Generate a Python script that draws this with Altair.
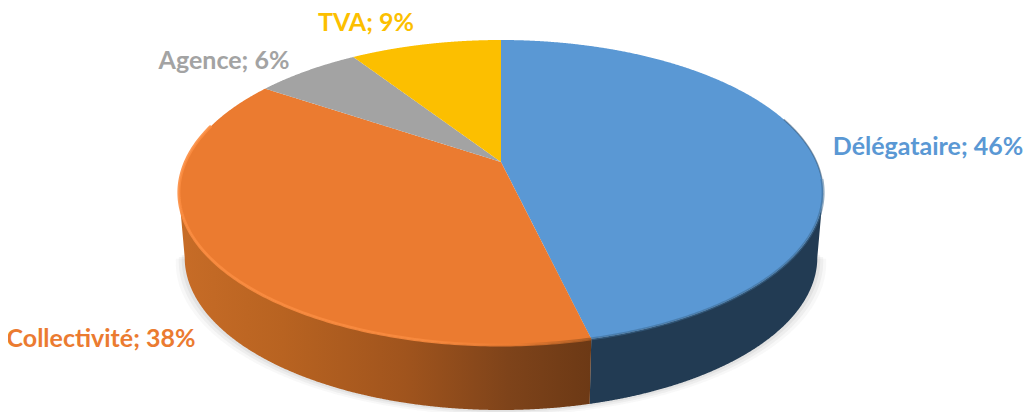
import numpy as np
import pandas as pd
import altair as alt

# Data
categories = ["Délégataire", "Collectivité", "Agence", "TVA"]
shares = [46.3, 38.1, 6.4, 9.2]
shown_pct = [46, 38, 6, 9]
face_colors = ["#5A98D4", "#EB7B30", "#A3A3A3", "#FCBF00"]
label_colors = ["#5B9BD5", "#ED7D31", "#A5A5A5", "#FFC000"]
label_x = [928, 101, 224, 366]
label_y = [147, 339, 61, 23]

# Perspective disc geometry
CX, CY = 501.0, 162.0
A, B, K = 315.6, 146.4, 0.2
DEPTH = 65.0
BOTTOM_X = 0.982
LEFT_T, RIGHT_T = 258.5, 101.5


def project(t_deg, scale_x=1.0, dy=0.0):
    t = np.radians(np.asarray(t_deg, dtype=float))
    u, v = np.sin(t), np.cos(t)
    w = 1 + K * v
    return CX + scale_x * A * u / w, CY + dy - B * v / w


def chords(poly_x, poly_y, n=260):
    """Vertical chords (x, y, y2) of a closed polygon."""
    px, py = np.asarray(poly_x), np.asarray(poly_y)
    xs = np.unique(np.concatenate([np.linspace(px.min(), px.max(), n), px]))
    rows = []
    qx, qy = np.roll(px, -1), np.roll(py, -1)
    for x in xs:
        hits = []
        for x0, y0, x1, y1 in zip(px, py, qx, qy):
            lo, hi = min(x0, x1), max(x0, x1)
            if lo <= x <= hi:
                if x1 == x0:
                    hits += [y0, y1]
                else:
                    hits.append(y0 + (y1 - y0) * (x - x0) / (x1 - x0))
        if hits:
            rows.append((x, min(hits), max(hits)))
    return pd.DataFrame(rows, columns=["x", "y", "y2"])


X = alt.X("x:Q", scale=alt.Scale(domain=[8, 1024], nice=False, zero=False), axis=None)
Y = alt.Y("y:Q", scale=alt.Scale(domain=[412, 8], nice=False, zero=False), axis=None)
Y2 = alt.Y2("y2:Q")


def area(df, **kw):
    return alt.Chart(df).mark_area(**kw).encode(x=X, y=Y, y2=Y2)


def rim(t0, t1, color, width, opacity):
    ts = np.linspace(t0, t1, 160)
    x, y = project(ts)
    df = pd.DataFrame({"x": x, "y": y, "o": np.arange(len(ts))})
    return alt.Chart(df).mark_line(color=color, strokeWidth=width, opacity=opacity).encode(
        x=X, y=Y, order="o:Q")


edges = np.concatenate([[0], np.cumsum(shares)]) * 3.6
blue_end = edges[1]

layers = []

# Soft shadow beneath the disc
for grow, op in [(9, 0.05), (6, 0.07), (3, 0.09)]:
    ts = np.linspace(100, 260, 200)
    x, y = project(ts, BOTTOM_X, DEPTH)
    x = CX + (x - CX) * (1 + grow / 320)
    y = y + grow * 0.6
    layers.append(area(chords(x, y), color="#707070", opacity=op))

# Side wall
wall_blue_t = np.linspace(RIGHT_T, blue_end, 100)
wall_orange_t = np.linspace(blue_end, LEFT_T, 140)


def wall(ts):
    x0, y0 = project(ts)
    x1, y1 = project(ts[::-1], BOTTOM_X, DEPTH)
    return chords(np.concatenate([x0, x1]), np.concatenate([y0, y1]))


layers.append(area(wall(wall_blue_t), color="#223B53"))
layers.append(area(wall(wall_orange_t), color=alt.Gradient(
    gradient="linear", x1=0, x2=1, y1=0, y2=0,
    stops=[
        alt.GradientStop(offset=0.0, color="#C76C27"),
        alt.GradientStop(offset=0.25, color="#B86321"),
        alt.GradientStop(offset=0.55, color="#A0541D"),
        alt.GradientStop(offset=0.8, color="#7E431A"),
        alt.GradientStop(offset=1.0, color="#6C3915"),
    ])))

# Top face, one area per slice, angles taken from the shares
rows = []
for name, t0, t1 in zip(categories, edges[:-1], edges[1:]):
    ts = np.linspace(t0, t1, 120)
    x, y = project(ts)
    d = chords(np.concatenate([[CX], x]), np.concatenate([[CY], y]), n=320)
    d["name"] = name
    rows.append(d)
top = pd.concat(rows, ignore_index=True)
layers.append(alt.Chart(top).mark_area().encode(
    x=X, y=Y, y2=Y2,
    color=alt.Color("name:N", scale=alt.Scale(domain=categories, range=face_colors), legend=None),
    detail="name:N"))

# Bevel around the rim
layers.append(rim(RIGHT_T - 5, blue_end, "#3D6A92", 3, 0.55))
layers.append(rim(72, RIGHT_T - 5, "#2E4F6E", 1.5, 0.55))
layers.append(rim(blue_end, 285, alt.Gradient(
    gradient="linear", x1=0, x2=1, y1=0, y2=0,
    stops=[
        alt.GradientStop(offset=0.0, color="#FB8C40"),
        alt.GradientStop(offset=0.6, color="#F98A3E"),
        alt.GradientStop(offset=0.82, color="#EB7B30"),
        alt.GradientStop(offset=1.0, color="#A85A22"),
    ]), 3, 0.9))

# Labels
labels = pd.DataFrame({
    "text": [f"{c}; {p}%" for c, p in zip(categories, shown_pct)],
    "name": categories,
    "x": label_x,
    "y": label_y,
})
layers.append(alt.Chart(labels).mark_text(
    font="Lato", fontSize=25, fontWeight="bold", align="center", baseline="middle"
).encode(
    x=X, y=Y, text="text:N",
    color=alt.Color("name:N", scale=alt.Scale(domain=categories, range=label_colors), legend=None),
))

chart = alt.layer(*layers).properties(
    width=1016, height=404, padding=0,
    autosize=alt.AutoSizeParams(type="none"),
    background="#FFFFFF",
).configure_view(stroke=None)

chart.save("out.html", embed_options={"renderer": "svg", "actions": False})
